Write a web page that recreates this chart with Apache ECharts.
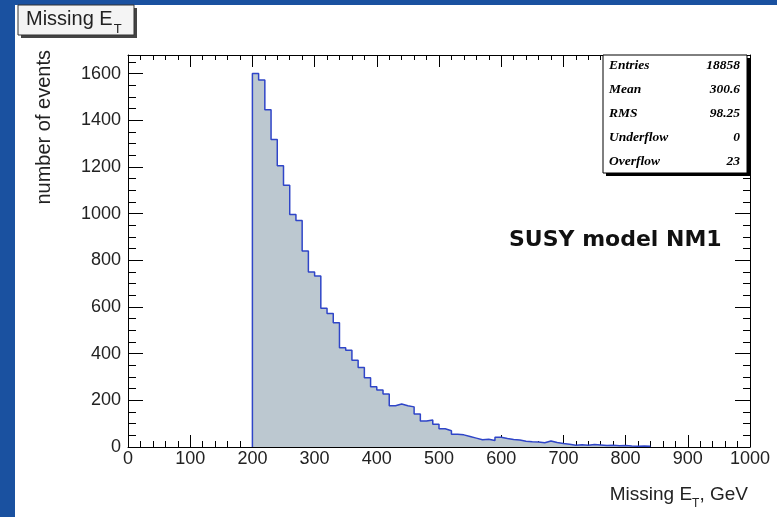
<!DOCTYPE html>
<html>
<head>
<meta charset="utf-8">
<script src="https://cdn.jsdelivr.net/npm/echarts@6/dist/echarts.min.js"></script>
<style>
  html, body { margin: 0; padding: 0; background: #1a51a0; }
  #panel { position: absolute; left: 15px; top: 5px; right: 0; bottom: 0; background: #fff; }
  #main { position: absolute; left: 0; top: 0; width: 777px; height: 517px; }
</style>
</head>
<body>
<div id="panel"></div>
<div id="main"></div>
<script>
// missing ET histogram, 10 GeV bins starting at 200 GeV
var binStart = 200;
var binWidth = 10;
var counts = [
    1601, 1573, 1445, 1318, 1205, 1122, 996, 971, 840, 750,
    733, 595, 572, 532, 425, 415, 372, 341, 297, 258,
    244, 227, 177, 184, 177, 172, 141, 111, 116, 98,
    78, 70, 55, 52, 45, 38, 31, 33, 28, 42,
    36, 32, 30, 25, 22, 21, 18, 26, 19, 15,
    12, 8, 10, 7, 11, 9, 6, 8, 5, 6,
    4, 3, 4, 3
];

// stats box
var statNames = ['Entries', 'Mean', 'RMS', 'Underflow', 'Overflow'];
var statValues = ['18858', '300.6', '98.25', '0', '23'];

var xMin = 0, xMax = 1000, xStep = 100;
var yMin = 0, yMax = 1680, yStep = 200, yMinorStep = 50;

// step outline: start at zero, one point per bin left edge, close at zero
var histData = [[binStart, 0]];
counts.forEach(function (c, i) {
    histData.push([binStart + i * binWidth, c]);
});
histData.push([binStart + counts.length * binWidth, 0]);

var font = '"Liberation Sans", Arial, sans-serif';
var axisColor = '#000';
var textColor = '#222';
var plain = function (v) { return String(v); };

function yAxisDef(pos, step, tickLen, showLabel, showLine) {
    return {
        type: 'value', position: pos, min: yMin, max: yMax, interval: step,
        axisLine: { show: showLine, lineStyle: { color: axisColor, width: 1 } },
        axisTick: { show: true, inside: true, length: tickLen, lineStyle: { color: axisColor } },
        axisLabel: {
            show: showLabel, margin: 7, fontSize: 18, fontFamily: font, color: textColor,
            showMaxLabel: false, formatter: plain
        },
        splitLine: { show: false }
    };
}

function xAxisDef(pos, showLabel, majorLen, minorLen) {
    return {
        type: 'value', position: pos, min: xMin, max: xMax, interval: xStep,
        axisLine: { show: true, onZero: false, lineStyle: { color: axisColor, width: 1 } },
        axisTick: { show: true, inside: true, length: majorLen, lineStyle: { color: axisColor } },
        minorTick: { show: true, splitNumber: 5, length: minorLen, lineStyle: { color: axisColor } },
        axisLabel: { show: showLabel, margin: 3, fontSize: 18, fontFamily: font, color: textColor, formatter: plain },
        splitLine: { show: false }
    };
}

var statChildren = [
    { type: 'rect', z: 100, shape: { x: 606, y: 58, width: 144, height: 118 }, style: { fill: '#000' } },
    { type: 'rect', z: 101, shape: { x: 603, y: 55, width: 144, height: 118 }, style: { fill: '#fff', stroke: '#000', lineWidth: 1 } }
];
statNames.forEach(function (name, i) {
    var y = 66 + i * 24;
    statChildren.push({
        type: 'text', z: 102, x: 609, y: y,
        style: { text: name, font: 'italic bold 13.5px "Liberation Serif", serif', fill: '#000', align: 'left', verticalAlign: 'middle' }
    });
    statChildren.push({
        type: 'text', z: 102, x: 740, y: y,
        style: { text: statValues[i], font: 'italic bold 13.5px "Liberation Serif", serif', fill: '#000', align: 'right', verticalAlign: 'middle' }
    });
});

var myChart = echarts.init(document.getElementById('main'));
var option = {
    animation: false,
    backgroundColor: 'transparent',
    grid: { left: 128, right: 27, top: 55, bottom: 70, outerBoundsMode: 'none' },
    xAxis: [
        xAxisDef('bottom', true, 12, 6),
        xAxisDef('top', false, 12, 5)
    ],
    yAxis: [
        yAxisDef('left', yStep, 15, true, true),
        yAxisDef('left', yMinorStep, 8, false, false),
        yAxisDef('right', yStep, 15, false, true),
        yAxisDef('right', yMinorStep, 7, false, false)
    ],
    series: [{
        name: 'Missing ET',
        type: 'line',
        step: 'end',
        data: histData,
        symbol: 'none',
        lineStyle: { color: '#2f45c8', width: 1.5 },
        areaStyle: { color: '#bcc8d0', opacity: 1 },
        z: 3
    }],
    graphic: [
        // title box
        { type: 'rect', z: 100, shape: { x: 21, y: 8, width: 116, height: 30 }, style: { fill: '#444' } },
        { type: 'rect', z: 101, shape: { x: 18, y: 5, width: 116, height: 30 }, style: { fill: '#f4f4f4', stroke: '#333', lineWidth: 1 } },
        {
            type: 'text', z: 102, x: 26, y: 36,
            style: {
                text: '{a|Missing E}{s|T}', align: 'left', verticalAlign: 'bottom',
                rich: {
                    a: { fontSize: 20, fontFamily: font, fill: textColor, verticalAlign: 'bottom', lineHeight: 20, padding: [0, 0, 7, 0] },
                    s: { fontSize: 13, fontFamily: font, fill: textColor, verticalAlign: 'bottom', lineHeight: 14, padding: [0, 0, 0, 1] }
                }
            }
        },
        // y axis title
        {
            type: 'text', x: 44, y: 50, rotation: Math.PI / 2,
            style: { text: 'number of events', font: '20px ' + font, fill: textColor, align: 'right', verticalAlign: 'middle' }
        },
        // x axis title
        {
            type: 'text', x: 748, y: 510,
            style: {
                text: '{a|Missing E}{s|T}{a|, GeV}', align: 'right', verticalAlign: 'bottom',
                rich: {
                    a: { fontSize: 19, fontFamily: font, fill: textColor, verticalAlign: 'bottom', lineHeight: 19, padding: [0, 0, 6, 0] },
                    s: { fontSize: 12, fontFamily: font, fill: textColor, verticalAlign: 'bottom', lineHeight: 13 }
                }
            }
        },
        // model label
        {
            type: 'text', x: 509, y: 240,
            style: { text: 'SUSY model NM1', font: 'bold 22px "DejaVu Sans", sans-serif', fill: '#111', align: 'left', verticalAlign: 'middle' }
        },
        { type: 'group', children: statChildren }
    ]
};

myChart.setOption(option);
</script>
</body>
</html>
